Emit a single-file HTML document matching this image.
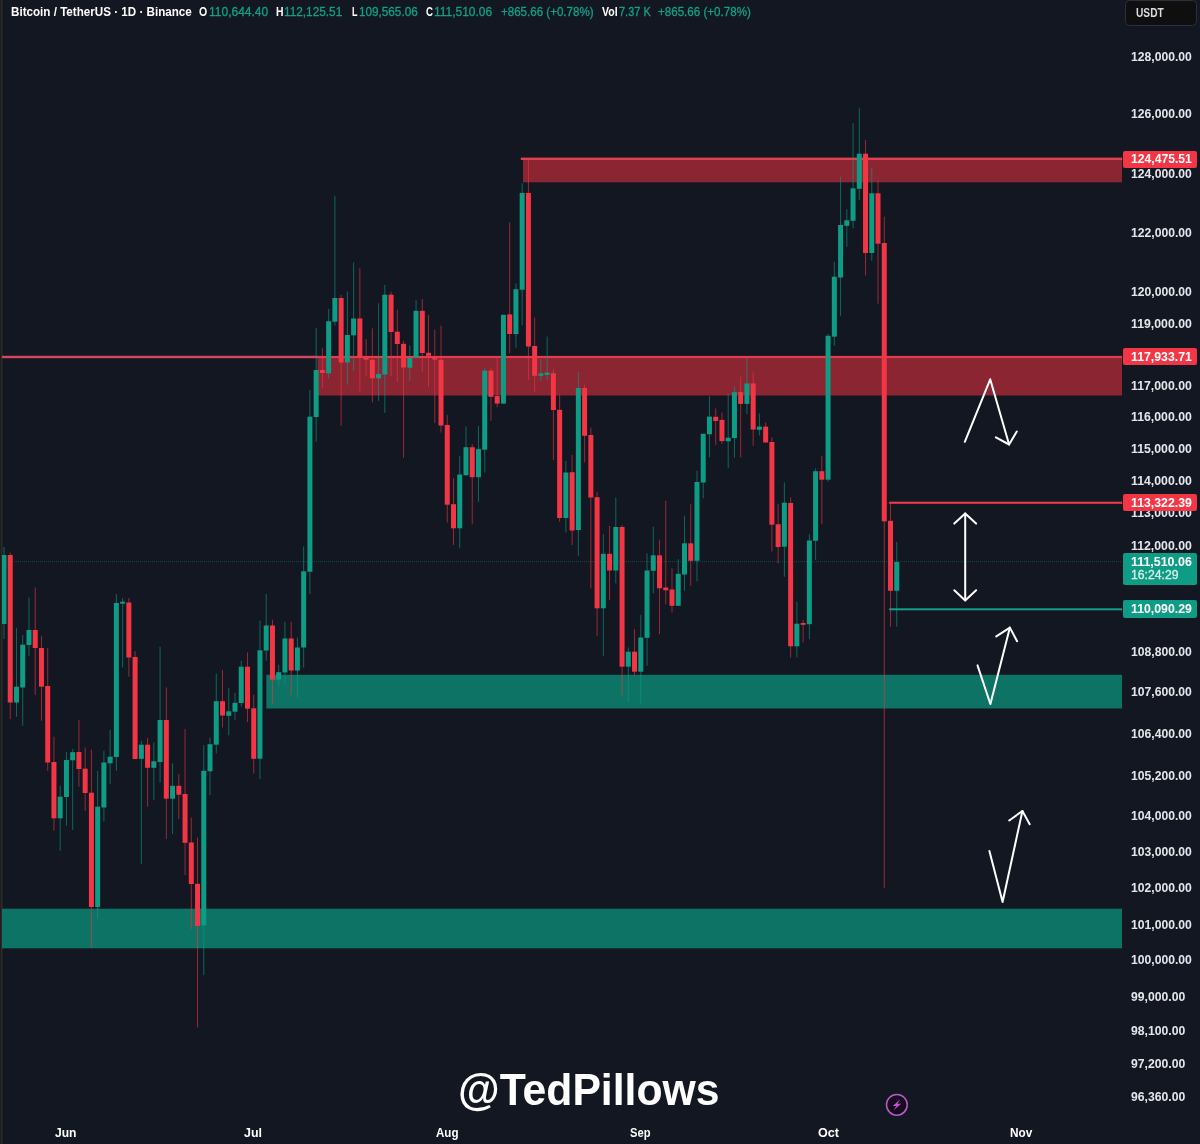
<!DOCTYPE html><html><head><meta charset="utf-8"><title>BTCUSDT</title><style>
html,body{margin:0;padding:0;background:#131722;}
body{width:1200px;height:1144px;overflow:hidden;position:relative;font-family:"Liberation Sans",sans-serif;}
#c{position:absolute;left:0;top:0;width:1200px;height:1144px;background:#131722;overflow:hidden;}
svg{position:absolute;left:0;top:0;}
#tx{position:absolute;left:0;top:0;width:1200px;height:1144px;will-change:transform;}
.t{position:absolute;white-space:nowrap;line-height:1;transform-origin:0 50%;}
.tag{position:absolute;border-radius:2px;z-index:2;}
.tt{z-index:3;}
.lb{position:absolute;left:0;top:0;width:1px;height:1144px;background:#1e1e1c;}
.lb2{position:absolute;left:1px;top:0;width:1px;height:1144px;background:#2a2a2a;}
.lb3{position:absolute;left:2px;top:0;width:1px;height:1144px;background:#212226;}
.usdt{position:absolute;left:1125px;top:-0.5px;width:70px;height:24.5px;border:1.5px solid #2c303a;border-radius:4.5px;background:#0f0f10;}

</style></head><body><div id="c">
<div class="lb3"></div>
<svg width="1200" height="1144" viewBox="0 0 1200 1144">
<rect x="523" y="159" width="599" height="23.3" fill="#8a2531"/>
<rect x="520.8" y="157.6" width="601.2" height="2.4" fill="#de4052"/>
<rect x="317.5" y="357" width="804.5" height="38.5" fill="#8a2531"/>
<rect x="0" y="355.8" width="318" height="2.4" fill="#d4485a"/>
<rect x="317.5" y="355.9" width="804.5" height="2.2" fill="#e23c4e"/>
<rect x="266.3" y="674.8" width="855.7" height="33.7" fill="#0d7364"/>
<rect x="0" y="908.7" width="1122" height="39.6" fill="#0d7364"/>
<line x1="0" y1="561.7" x2="1122" y2="561.7" stroke="#0e9c84" stroke-width="1" stroke-dasharray="1 1" opacity="0.38"/>
<rect x="3.50" y="547.0" width="1" height="92.0" fill="#0e9c84" opacity="0.6"/>
<rect x="1.50" y="555.0" width="5.0" height="69.0" fill="#0e9c84"/>
<rect x="9.74" y="552.5" width="1" height="166.5" fill="#f23645" opacity="0.6"/>
<rect x="7.74" y="555.0" width="5.0" height="147.5" fill="#f23645"/>
<rect x="15.99" y="628.0" width="1" height="88.7" fill="#0e9c84" opacity="0.6"/>
<rect x="13.99" y="686.7" width="5.0" height="15.8" fill="#0e9c84"/>
<rect x="22.23" y="635.0" width="1" height="90.8" fill="#0e9c84" opacity="0.6"/>
<rect x="20.23" y="644.7" width="5.0" height="42.8" fill="#0e9c84"/>
<rect x="28.47" y="597.5" width="1" height="58.3" fill="#0e9c84" opacity="0.6"/>
<rect x="26.47" y="630.0" width="5.0" height="15.0" fill="#0e9c84"/>
<rect x="34.72" y="587.5" width="1" height="107.5" fill="#f23645" opacity="0.6"/>
<rect x="32.72" y="630.0" width="5.0" height="18.0" fill="#f23645"/>
<rect x="40.96" y="635.8" width="1" height="85.0" fill="#f23645" opacity="0.6"/>
<rect x="38.96" y="648.0" width="5.0" height="38.7" fill="#f23645"/>
<rect x="47.20" y="648.0" width="1" height="122.8" fill="#f23645" opacity="0.6"/>
<rect x="45.20" y="686.0" width="5.0" height="76.5" fill="#f23645"/>
<rect x="53.44" y="736.7" width="1" height="94.1" fill="#f23645" opacity="0.6"/>
<rect x="51.44" y="762.0" width="5.0" height="56.3" fill="#f23645"/>
<rect x="59.69" y="785.8" width="1" height="65.0" fill="#0e9c84" opacity="0.6"/>
<rect x="57.69" y="796.7" width="5.0" height="21.6" fill="#0e9c84"/>
<rect x="65.93" y="752.0" width="1" height="73.8" fill="#0e9c84" opacity="0.6"/>
<rect x="63.93" y="760.0" width="5.0" height="37.0" fill="#0e9c84"/>
<rect x="72.17" y="749.0" width="1" height="81.0" fill="#0e9c84" opacity="0.6"/>
<rect x="70.17" y="752.2" width="5.0" height="8.1" fill="#0e9c84"/>
<rect x="78.42" y="720.0" width="1" height="66.7" fill="#f23645" opacity="0.6"/>
<rect x="76.42" y="752.0" width="5.0" height="17.0" fill="#f23645"/>
<rect x="84.66" y="747.5" width="1" height="63.3" fill="#f23645" opacity="0.6"/>
<rect x="82.66" y="768.7" width="5.0" height="24.3" fill="#f23645"/>
<rect x="90.90" y="749.7" width="1" height="197.8" fill="#f23645" opacity="0.6"/>
<rect x="88.90" y="792.7" width="5.0" height="114.3" fill="#f23645"/>
<rect x="97.15" y="770.8" width="1" height="148.2" fill="#0e9c84" opacity="0.6"/>
<rect x="95.15" y="806.7" width="5.0" height="100.3" fill="#0e9c84"/>
<rect x="103.39" y="750.8" width="1" height="70.9" fill="#0e9c84" opacity="0.6"/>
<rect x="101.39" y="762.5" width="5.0" height="45.0" fill="#0e9c84"/>
<rect x="109.63" y="730.0" width="1" height="54.0" fill="#0e9c84" opacity="0.6"/>
<rect x="107.63" y="756.7" width="5.0" height="6.6" fill="#0e9c84"/>
<rect x="115.87" y="594.0" width="1" height="176.8" fill="#0e9c84" opacity="0.6"/>
<rect x="113.87" y="603.0" width="5.0" height="154.0" fill="#0e9c84"/>
<rect x="122.12" y="598.0" width="1" height="69.5" fill="#0e9c84" opacity="0.6"/>
<rect x="120.12" y="601.7" width="5.0" height="2.0" fill="#0e9c84"/>
<rect x="128.36" y="598.0" width="1" height="78.7" fill="#f23645" opacity="0.6"/>
<rect x="126.36" y="602.5" width="5.0" height="55.0" fill="#f23645"/>
<rect x="134.60" y="651.0" width="1" height="108.0" fill="#f23645" opacity="0.6"/>
<rect x="132.60" y="657.0" width="5.0" height="102.0" fill="#f23645"/>
<rect x="140.85" y="740.8" width="1" height="123.2" fill="#0e9c84" opacity="0.6"/>
<rect x="138.85" y="744.7" width="5.0" height="14.1" fill="#0e9c84"/>
<rect x="147.09" y="738.0" width="1" height="68.7" fill="#f23645" opacity="0.6"/>
<rect x="145.09" y="744.7" width="5.0" height="23.1" fill="#f23645"/>
<rect x="153.33" y="742.5" width="1" height="57.5" fill="#0e9c84" opacity="0.6"/>
<rect x="151.33" y="761.3" width="5.0" height="6.5" fill="#0e9c84"/>
<rect x="159.58" y="646.7" width="1" height="135.8" fill="#0e9c84" opacity="0.6"/>
<rect x="157.58" y="720.0" width="5.0" height="42.0" fill="#0e9c84"/>
<rect x="165.82" y="687.5" width="1" height="151.5" fill="#f23645" opacity="0.6"/>
<rect x="163.82" y="720.0" width="5.0" height="78.7" fill="#f23645"/>
<rect x="172.06" y="763.3" width="1" height="70.7" fill="#0e9c84" opacity="0.6"/>
<rect x="170.06" y="785.8" width="5.0" height="12.9" fill="#0e9c84"/>
<rect x="178.30" y="774.0" width="1" height="45.0" fill="#f23645" opacity="0.6"/>
<rect x="176.30" y="785.8" width="5.0" height="8.9" fill="#f23645"/>
<rect x="184.55" y="729.0" width="1" height="146.0" fill="#f23645" opacity="0.6"/>
<rect x="182.55" y="794.0" width="5.0" height="48.8" fill="#f23645"/>
<rect x="190.79" y="817.5" width="1" height="111.5" fill="#f23645" opacity="0.6"/>
<rect x="188.79" y="842.5" width="5.0" height="41.5" fill="#f23645"/>
<rect x="197.03" y="837.5" width="1" height="190.0" fill="#f23645" opacity="0.6"/>
<rect x="195.03" y="883.8" width="5.0" height="42.2" fill="#f23645"/>
<rect x="203.28" y="745.0" width="1" height="230.0" fill="#0e9c84" opacity="0.6"/>
<rect x="201.28" y="770.8" width="5.0" height="154.5" fill="#0e9c84"/>
<rect x="209.52" y="737.5" width="1" height="57.5" fill="#0e9c84" opacity="0.6"/>
<rect x="207.52" y="744.2" width="5.0" height="27.1" fill="#0e9c84"/>
<rect x="215.76" y="673.7" width="1" height="79.6" fill="#0e9c84" opacity="0.6"/>
<rect x="213.76" y="701.2" width="5.0" height="43.5" fill="#0e9c84"/>
<rect x="222.01" y="670.0" width="1" height="57.5" fill="#f23645" opacity="0.6"/>
<rect x="220.01" y="701.2" width="5.0" height="14.3" fill="#f23645"/>
<rect x="228.25" y="688.0" width="1" height="47.3" fill="#0e9c84" opacity="0.6"/>
<rect x="226.25" y="711.3" width="5.0" height="4.5" fill="#0e9c84"/>
<rect x="234.49" y="693.0" width="1" height="26.7" fill="#0e9c84" opacity="0.6"/>
<rect x="232.49" y="702.8" width="5.0" height="8.9" fill="#0e9c84"/>
<rect x="240.73" y="660.8" width="1" height="45.9" fill="#0e9c84" opacity="0.6"/>
<rect x="238.73" y="666.7" width="5.0" height="36.3" fill="#0e9c84"/>
<rect x="246.98" y="652.5" width="1" height="69.5" fill="#f23645" opacity="0.6"/>
<rect x="244.98" y="666.7" width="5.0" height="42.0" fill="#f23645"/>
<rect x="253.22" y="694.7" width="1" height="79.0" fill="#f23645" opacity="0.6"/>
<rect x="251.22" y="708.3" width="5.0" height="50.5" fill="#f23645"/>
<rect x="259.46" y="620.8" width="1" height="158.2" fill="#0e9c84" opacity="0.6"/>
<rect x="257.46" y="650.3" width="5.0" height="108.4" fill="#0e9c84"/>
<rect x="265.71" y="594.0" width="1" height="66.8" fill="#0e9c84" opacity="0.6"/>
<rect x="263.71" y="625.5" width="5.0" height="25.0" fill="#0e9c84"/>
<rect x="271.95" y="619.7" width="1" height="83.6" fill="#f23645" opacity="0.6"/>
<rect x="269.95" y="625.5" width="5.0" height="54.2" fill="#f23645"/>
<rect x="278.19" y="664.7" width="1" height="22.0" fill="#0e9c84" opacity="0.6"/>
<rect x="276.19" y="672.2" width="5.0" height="7.5" fill="#0e9c84"/>
<rect x="284.44" y="621.7" width="1" height="63.3" fill="#0e9c84" opacity="0.6"/>
<rect x="282.44" y="638.5" width="5.0" height="34.0" fill="#0e9c84"/>
<rect x="290.68" y="621.7" width="1" height="73.3" fill="#f23645" opacity="0.6"/>
<rect x="288.68" y="638.5" width="5.0" height="32.0" fill="#f23645"/>
<rect x="296.92" y="637.5" width="1" height="60.0" fill="#0e9c84" opacity="0.6"/>
<rect x="294.92" y="647.5" width="5.0" height="23.0" fill="#0e9c84"/>
<rect x="303.16" y="546.3" width="1" height="121.2" fill="#0e9c84" opacity="0.6"/>
<rect x="301.16" y="571.3" width="5.0" height="76.2" fill="#0e9c84"/>
<rect x="309.41" y="390.0" width="1" height="204.0" fill="#0e9c84" opacity="0.6"/>
<rect x="307.41" y="416.7" width="5.0" height="155.0" fill="#0e9c84"/>
<rect x="315.65" y="328.0" width="1" height="113.7" fill="#0e9c84" opacity="0.6"/>
<rect x="313.65" y="370.0" width="5.0" height="47.0" fill="#0e9c84"/>
<rect x="321.89" y="348.3" width="1" height="40.0" fill="#f23645" opacity="0.6"/>
<rect x="319.89" y="370.0" width="5.0" height="3.0" fill="#f23645"/>
<rect x="328.14" y="309.0" width="1" height="69.3" fill="#0e9c84" opacity="0.6"/>
<rect x="326.14" y="321.3" width="5.0" height="52.0" fill="#0e9c84"/>
<rect x="334.38" y="195.8" width="1" height="130.0" fill="#0e9c84" opacity="0.6"/>
<rect x="332.38" y="298.0" width="5.0" height="23.7" fill="#0e9c84"/>
<rect x="340.62" y="294.7" width="1" height="131.1" fill="#f23645" opacity="0.6"/>
<rect x="338.62" y="298.0" width="5.0" height="64.5" fill="#f23645"/>
<rect x="346.87" y="291.5" width="1" height="93.2" fill="#0e9c84" opacity="0.6"/>
<rect x="344.87" y="335.0" width="5.0" height="27.5" fill="#0e9c84"/>
<rect x="353.11" y="262.5" width="1" height="108.3" fill="#0e9c84" opacity="0.6"/>
<rect x="351.11" y="318.5" width="5.0" height="16.8" fill="#0e9c84"/>
<rect x="359.35" y="268.3" width="1" height="123.0" fill="#f23645" opacity="0.6"/>
<rect x="357.35" y="318.5" width="5.0" height="38.5" fill="#f23645"/>
<rect x="365.59" y="339.0" width="1" height="37.7" fill="#f23645" opacity="0.6"/>
<rect x="363.59" y="357.0" width="5.0" height="2.7" fill="#f23645"/>
<rect x="371.84" y="328.3" width="1" height="74.2" fill="#f23645" opacity="0.6"/>
<rect x="369.84" y="359.7" width="5.0" height="18.6" fill="#f23645"/>
<rect x="378.08" y="303.3" width="1" height="97.5" fill="#0e9c84" opacity="0.6"/>
<rect x="376.08" y="374.0" width="5.0" height="4.3" fill="#0e9c84"/>
<rect x="384.32" y="285.0" width="1" height="128.0" fill="#0e9c84" opacity="0.6"/>
<rect x="382.32" y="294.7" width="5.0" height="79.8" fill="#0e9c84"/>
<rect x="390.57" y="291.7" width="1" height="84.1" fill="#f23645" opacity="0.6"/>
<rect x="388.57" y="294.7" width="5.0" height="37.3" fill="#f23645"/>
<rect x="396.81" y="309.7" width="1" height="72.3" fill="#f23645" opacity="0.6"/>
<rect x="394.81" y="331.7" width="5.0" height="12.3" fill="#f23645"/>
<rect x="403.05" y="340.8" width="1" height="116.7" fill="#f23645" opacity="0.6"/>
<rect x="401.05" y="343.8" width="5.0" height="23.7" fill="#f23645"/>
<rect x="409.30" y="345.3" width="1" height="35.5" fill="#0e9c84" opacity="0.6"/>
<rect x="407.30" y="358.0" width="5.0" height="9.8" fill="#0e9c84"/>
<rect x="415.54" y="300.0" width="1" height="57.8" fill="#0e9c84" opacity="0.6"/>
<rect x="413.54" y="310.8" width="5.0" height="47.0" fill="#0e9c84"/>
<rect x="421.78" y="299.0" width="1" height="72.7" fill="#f23645" opacity="0.6"/>
<rect x="419.78" y="310.8" width="5.0" height="42.2" fill="#f23645"/>
<rect x="428.02" y="315.0" width="1" height="71.7" fill="#f23645" opacity="0.6"/>
<rect x="426.02" y="352.8" width="5.0" height="3.0" fill="#f23645"/>
<rect x="434.27" y="329.7" width="1" height="93.3" fill="#f23645" opacity="0.6"/>
<rect x="432.27" y="356.7" width="5.0" height="3.0" fill="#f23645"/>
<rect x="440.51" y="325.8" width="1" height="106.7" fill="#f23645" opacity="0.6"/>
<rect x="438.51" y="359.7" width="5.0" height="65.8" fill="#f23645"/>
<rect x="446.75" y="415.0" width="1" height="107.5" fill="#f23645" opacity="0.6"/>
<rect x="444.75" y="425.0" width="5.0" height="79.7" fill="#f23645"/>
<rect x="453.00" y="478.3" width="1" height="66.7" fill="#f23645" opacity="0.6"/>
<rect x="451.00" y="504.2" width="5.0" height="24.1" fill="#f23645"/>
<rect x="459.24" y="455.8" width="1" height="92.5" fill="#0e9c84" opacity="0.6"/>
<rect x="457.24" y="474.5" width="5.0" height="53.8" fill="#0e9c84"/>
<rect x="465.48" y="426.3" width="1" height="49.0" fill="#0e9c84" opacity="0.6"/>
<rect x="463.48" y="447.2" width="5.0" height="28.1" fill="#0e9c84"/>
<rect x="471.73" y="444.2" width="1" height="80.0" fill="#f23645" opacity="0.6"/>
<rect x="469.73" y="447.2" width="5.0" height="30.0" fill="#f23645"/>
<rect x="477.97" y="426.0" width="1" height="75.7" fill="#0e9c84" opacity="0.6"/>
<rect x="475.97" y="449.2" width="5.0" height="28.0" fill="#0e9c84"/>
<rect x="484.21" y="367.8" width="1" height="104.7" fill="#0e9c84" opacity="0.6"/>
<rect x="482.21" y="370.7" width="5.0" height="79.0" fill="#0e9c84"/>
<rect x="490.45" y="367.8" width="1" height="53.0" fill="#f23645" opacity="0.6"/>
<rect x="488.45" y="370.7" width="5.0" height="26.1" fill="#f23645"/>
<rect x="496.70" y="358.2" width="1" height="49.0" fill="#f23645" opacity="0.6"/>
<rect x="494.70" y="396.0" width="5.0" height="7.6" fill="#f23645"/>
<rect x="502.94" y="314.8" width="1" height="88.8" fill="#0e9c84" opacity="0.6"/>
<rect x="500.94" y="314.8" width="5.0" height="88.8" fill="#0e9c84"/>
<rect x="509.18" y="222.5" width="1" height="130.7" fill="#f23645" opacity="0.6"/>
<rect x="507.18" y="314.4" width="5.0" height="19.6" fill="#f23645"/>
<rect x="515.43" y="283.3" width="1" height="64.5" fill="#0e9c84" opacity="0.6"/>
<rect x="513.43" y="289.2" width="5.0" height="44.8" fill="#0e9c84"/>
<rect x="521.67" y="183.3" width="1" height="141.9" fill="#0e9c84" opacity="0.6"/>
<rect x="519.67" y="193.0" width="5.0" height="96.7" fill="#0e9c84"/>
<rect x="527.91" y="159.0" width="1" height="221.0" fill="#f23645" opacity="0.6"/>
<rect x="525.91" y="193.0" width="5.0" height="153.5" fill="#f23645"/>
<rect x="534.15" y="317.4" width="1" height="74.3" fill="#f23645" opacity="0.6"/>
<rect x="532.15" y="346.0" width="5.0" height="29.8" fill="#f23645"/>
<rect x="540.40" y="359.3" width="1" height="21.7" fill="#0e9c84" opacity="0.6"/>
<rect x="538.40" y="373.4" width="5.0" height="2.4" fill="#0e9c84"/>
<rect x="546.64" y="336.6" width="1" height="43.4" fill="#0e9c84" opacity="0.6"/>
<rect x="544.64" y="372.6" width="5.0" height="2.3" fill="#0e9c84"/>
<rect x="552.88" y="369.3" width="1" height="90.7" fill="#f23645" opacity="0.6"/>
<rect x="550.88" y="373.2" width="5.0" height="36.8" fill="#f23645"/>
<rect x="559.13" y="394.8" width="1" height="126.9" fill="#f23645" opacity="0.6"/>
<rect x="557.13" y="409.8" width="5.0" height="108.2" fill="#f23645"/>
<rect x="565.37" y="460.8" width="1" height="71.7" fill="#0e9c84" opacity="0.6"/>
<rect x="563.37" y="472.5" width="5.0" height="45.5" fill="#0e9c84"/>
<rect x="571.61" y="455.0" width="1" height="90.0" fill="#f23645" opacity="0.6"/>
<rect x="569.61" y="472.2" width="5.0" height="58.3" fill="#f23645"/>
<rect x="577.86" y="372.0" width="1" height="183.8" fill="#0e9c84" opacity="0.6"/>
<rect x="575.86" y="388.0" width="5.0" height="142.0" fill="#0e9c84"/>
<rect x="584.10" y="384.7" width="1" height="77.8" fill="#f23645" opacity="0.6"/>
<rect x="582.10" y="388.0" width="5.0" height="47.8" fill="#f23645"/>
<rect x="590.34" y="427.5" width="1" height="160.8" fill="#f23645" opacity="0.6"/>
<rect x="588.34" y="435.0" width="5.0" height="62.5" fill="#f23645"/>
<rect x="596.59" y="491.7" width="1" height="144.1" fill="#f23645" opacity="0.6"/>
<rect x="594.59" y="497.2" width="5.0" height="111.1" fill="#f23645"/>
<rect x="602.83" y="534.2" width="1" height="121.6" fill="#0e9c84" opacity="0.6"/>
<rect x="600.83" y="553.8" width="5.0" height="54.5" fill="#0e9c84"/>
<rect x="609.07" y="525.8" width="1" height="74.2" fill="#f23645" opacity="0.6"/>
<rect x="607.07" y="553.8" width="5.0" height="16.7" fill="#f23645"/>
<rect x="615.31" y="497.5" width="1" height="85.8" fill="#0e9c84" opacity="0.6"/>
<rect x="613.31" y="527.0" width="5.0" height="43.5" fill="#0e9c84"/>
<rect x="621.56" y="525.0" width="1" height="170.8" fill="#f23645" opacity="0.6"/>
<rect x="619.56" y="527.0" width="5.0" height="139.7" fill="#f23645"/>
<rect x="627.80" y="647.5" width="1" height="54.2" fill="#0e9c84" opacity="0.6"/>
<rect x="625.80" y="651.7" width="5.0" height="15.0" fill="#0e9c84"/>
<rect x="634.04" y="629.2" width="1" height="46.6" fill="#f23645" opacity="0.6"/>
<rect x="632.04" y="651.7" width="5.0" height="20.0" fill="#f23645"/>
<rect x="640.29" y="615.0" width="1" height="88.3" fill="#0e9c84" opacity="0.6"/>
<rect x="638.29" y="637.5" width="5.0" height="34.2" fill="#0e9c84"/>
<rect x="646.53" y="553.3" width="1" height="112.5" fill="#0e9c84" opacity="0.6"/>
<rect x="644.53" y="570.5" width="5.0" height="67.3" fill="#0e9c84"/>
<rect x="652.77" y="526.7" width="1" height="66.6" fill="#0e9c84" opacity="0.6"/>
<rect x="650.77" y="555.3" width="5.0" height="15.5" fill="#0e9c84"/>
<rect x="659.01" y="540.0" width="1" height="94.2" fill="#f23645" opacity="0.6"/>
<rect x="657.01" y="555.3" width="5.0" height="33.0" fill="#f23645"/>
<rect x="665.26" y="500.8" width="1" height="103.4" fill="#f23645" opacity="0.6"/>
<rect x="663.26" y="587.5" width="5.0" height="2.8" fill="#f23645"/>
<rect x="671.50" y="568.3" width="1" height="44.2" fill="#f23645" opacity="0.6"/>
<rect x="669.50" y="589.5" width="5.0" height="16.3" fill="#f23645"/>
<rect x="677.74" y="559.2" width="1" height="46.6" fill="#0e9c84" opacity="0.6"/>
<rect x="675.74" y="573.8" width="5.0" height="32.0" fill="#0e9c84"/>
<rect x="683.99" y="515.8" width="1" height="75.0" fill="#0e9c84" opacity="0.6"/>
<rect x="681.99" y="543.3" width="5.0" height="31.2" fill="#0e9c84"/>
<rect x="690.23" y="504.2" width="1" height="81.6" fill="#f23645" opacity="0.6"/>
<rect x="688.23" y="543.3" width="5.0" height="17.5" fill="#f23645"/>
<rect x="696.47" y="470.8" width="1" height="110.5" fill="#0e9c84" opacity="0.6"/>
<rect x="694.47" y="482.0" width="5.0" height="78.8" fill="#0e9c84"/>
<rect x="702.72" y="433.8" width="1" height="64.5" fill="#0e9c84" opacity="0.6"/>
<rect x="700.72" y="433.8" width="5.0" height="48.7" fill="#0e9c84"/>
<rect x="708.96" y="396.2" width="1" height="61.1" fill="#0e9c84" opacity="0.6"/>
<rect x="706.96" y="416.6" width="5.0" height="17.6" fill="#0e9c84"/>
<rect x="715.20" y="408.4" width="1" height="36.6" fill="#f23645" opacity="0.6"/>
<rect x="713.20" y="416.8" width="5.0" height="4.2" fill="#f23645"/>
<rect x="721.45" y="412.4" width="1" height="31.4" fill="#f23645" opacity="0.6"/>
<rect x="719.45" y="419.9" width="5.0" height="21.2" fill="#f23645"/>
<rect x="727.69" y="393.7" width="1" height="74.3" fill="#0e9c84" opacity="0.6"/>
<rect x="725.69" y="437.7" width="5.0" height="3.6" fill="#0e9c84"/>
<rect x="733.93" y="386.3" width="1" height="71.2" fill="#0e9c84" opacity="0.6"/>
<rect x="731.93" y="392.1" width="5.0" height="45.9" fill="#0e9c84"/>
<rect x="740.17" y="376.6" width="1" height="80.6" fill="#f23645" opacity="0.6"/>
<rect x="738.17" y="392.1" width="5.0" height="11.8" fill="#f23645"/>
<rect x="746.42" y="357.8" width="1" height="56.3" fill="#0e9c84" opacity="0.6"/>
<rect x="744.42" y="383.4" width="5.0" height="20.5" fill="#0e9c84"/>
<rect x="752.66" y="371.6" width="1" height="74.2" fill="#f23645" opacity="0.6"/>
<rect x="750.66" y="383.4" width="5.0" height="46.1" fill="#f23645"/>
<rect x="758.90" y="413.4" width="1" height="22.0" fill="#0e9c84" opacity="0.6"/>
<rect x="756.90" y="426.6" width="5.0" height="3.2" fill="#0e9c84"/>
<rect x="765.15" y="422.6" width="1" height="19.9" fill="#f23645" opacity="0.6"/>
<rect x="763.15" y="426.6" width="5.0" height="15.9" fill="#f23645"/>
<rect x="771.39" y="437.2" width="1" height="114.5" fill="#f23645" opacity="0.6"/>
<rect x="769.39" y="442.0" width="5.0" height="82.7" fill="#f23645"/>
<rect x="777.63" y="504.2" width="1" height="59.1" fill="#f23645" opacity="0.6"/>
<rect x="775.63" y="524.2" width="5.0" height="22.8" fill="#f23645"/>
<rect x="783.88" y="482.5" width="1" height="94.2" fill="#0e9c84" opacity="0.6"/>
<rect x="781.88" y="502.7" width="5.0" height="44.0" fill="#0e9c84"/>
<rect x="790.12" y="497.5" width="1" height="160.0" fill="#f23645" opacity="0.6"/>
<rect x="788.12" y="503.0" width="5.0" height="143.3" fill="#f23645"/>
<rect x="796.36" y="601.7" width="1" height="55.8" fill="#0e9c84" opacity="0.6"/>
<rect x="794.36" y="623.7" width="5.0" height="22.6" fill="#0e9c84"/>
<rect x="802.60" y="619.7" width="1" height="22.8" fill="#f23645" opacity="0.6"/>
<rect x="800.60" y="623.0" width="5.0" height="1.8" fill="#f23645"/>
<rect x="808.85" y="534.2" width="1" height="105.0" fill="#0e9c84" opacity="0.6"/>
<rect x="806.85" y="540.5" width="5.0" height="83.7" fill="#0e9c84"/>
<rect x="815.09" y="468.3" width="1" height="91.7" fill="#0e9c84" opacity="0.6"/>
<rect x="813.09" y="471.2" width="5.0" height="69.6" fill="#0e9c84"/>
<rect x="821.33" y="455.8" width="1" height="68.4" fill="#f23645" opacity="0.6"/>
<rect x="819.33" y="471.2" width="5.0" height="8.5" fill="#f23645"/>
<rect x="827.58" y="334.0" width="1" height="147.7" fill="#0e9c84" opacity="0.6"/>
<rect x="825.58" y="335.8" width="5.0" height="143.9" fill="#0e9c84"/>
<rect x="833.82" y="261.7" width="1" height="84.1" fill="#0e9c84" opacity="0.6"/>
<rect x="831.82" y="276.7" width="5.0" height="60.0" fill="#0e9c84"/>
<rect x="840.06" y="176.7" width="1" height="139.1" fill="#0e9c84" opacity="0.6"/>
<rect x="838.06" y="225.0" width="5.0" height="52.5" fill="#0e9c84"/>
<rect x="846.31" y="209.2" width="1" height="37.5" fill="#0e9c84" opacity="0.6"/>
<rect x="844.31" y="220.3" width="5.0" height="5.5" fill="#0e9c84"/>
<rect x="852.55" y="123.3" width="1" height="105.0" fill="#0e9c84" opacity="0.6"/>
<rect x="850.55" y="188.3" width="5.0" height="32.5" fill="#0e9c84"/>
<rect x="858.79" y="108.3" width="1" height="91.7" fill="#0e9c84" opacity="0.6"/>
<rect x="856.79" y="153.7" width="5.0" height="35.1" fill="#0e9c84"/>
<rect x="865.03" y="140.0" width="1" height="135.5" fill="#f23645" opacity="0.6"/>
<rect x="863.03" y="153.7" width="5.0" height="99.3" fill="#f23645"/>
<rect x="871.28" y="167.5" width="1" height="93.3" fill="#0e9c84" opacity="0.6"/>
<rect x="869.28" y="193.3" width="5.0" height="59.7" fill="#0e9c84"/>
<rect x="877.52" y="180.8" width="1" height="122.9" fill="#f23645" opacity="0.6"/>
<rect x="875.52" y="193.3" width="5.0" height="50.4" fill="#f23645"/>
<rect x="883.76" y="216.7" width="1" height="671.3" fill="#f23645" opacity="0.6"/>
<rect x="881.76" y="243.0" width="5.0" height="278.3" fill="#f23645"/>
<rect x="890.01" y="503.3" width="1" height="123.4" fill="#f23645" opacity="0.6"/>
<rect x="888.01" y="520.8" width="5.0" height="70.0" fill="#f23645"/>
<rect x="896.25" y="542.0" width="1" height="84.7" fill="#0e9c84" opacity="0.6"/>
<rect x="894.25" y="562.0" width="5.0" height="28.8" fill="#0e9c84"/>
<rect x="889.2" y="501.7" width="232.8" height="2.1" fill="#ef3a4a"/>
<rect x="889.2" y="608.3" width="232.8" height="2.0" fill="#12a089"/>
<polyline points="964.8,441.8 990.2,379.3 1009.1,444.5" fill="none" stroke="#ffffff" stroke-width="2" stroke-linecap="round" stroke-linejoin="round"/>
<polyline points="995.9,437.3 1009.1,444.5 1016.8,431.6" fill="none" stroke="#ffffff" stroke-width="2" stroke-linecap="round" stroke-linejoin="round"/>
<polyline points="965.2,513.6 965.2,600.3" fill="none" stroke="#ffffff" stroke-width="2" stroke-linecap="round" stroke-linejoin="round"/>
<polyline points="954.3,523.6 965.2,513.4 976.1,523.6" fill="none" stroke="#ffffff" stroke-width="2" stroke-linecap="round" stroke-linejoin="round"/>
<polyline points="954.3,590.2 965.2,600.5 976.1,590.2" fill="none" stroke="#ffffff" stroke-width="2" stroke-linecap="round" stroke-linejoin="round"/>
<polyline points="977.5,665.4 990.4,704.0 1009.9,627.6" fill="none" stroke="#ffffff" stroke-width="2" stroke-linecap="round" stroke-linejoin="round"/>
<polyline points="996.3,636.4 1009.9,627.6 1017.1,641.2" fill="none" stroke="#ffffff" stroke-width="2" stroke-linecap="round" stroke-linejoin="round"/>
<polyline points="989.4,851.0 1002.6,902.0 1022.4,811.0" fill="none" stroke="#ffffff" stroke-width="2" stroke-linecap="round" stroke-linejoin="round"/>
<polyline points="1009.2,820.5 1022.4,811.0 1029.7,824.2" fill="none" stroke="#ffffff" stroke-width="2" stroke-linecap="round" stroke-linejoin="round"/>
<circle cx="896.85" cy="1104.8" r="10.35" fill="#160a1e" stroke="#b65cc6" stroke-width="1.5"/>
<path d="M900.4 1099.2 L892.8 1106 L896.4 1106 L893.4 1110.6 L901.1 1103.7 L897.5 1103.7 Z" fill="#d048dc"/>
</svg>
<div class="lb"></div><div class="lb2"></div>
<div id="tx">
<div class="usdt"></div>
<div class="tag" style="left:1122.7px;top:150.8px;width:74.5px;height:17.2px;background:#f23645"></div>
<div class="tag" style="left:1122.7px;top:348.2px;width:74.5px;height:17.3px;background:#f23645"></div>
<div class="tag" style="left:1122.7px;top:494.1px;width:74.5px;height:17.4px;background:#f23645"></div>
<div class="tag" style="left:1122.7px;top:553px;width:74.5px;height:32.2px;background:#0e9c84"></div>
<div class="tag" style="left:1122.7px;top:600px;width:74.5px;height:18.2px;background:#0e9c84"></div>
<div class="t" style="left:10.5px;top:5.70px;font-size:12px;font-weight:bold;color:#ffffff;transform:scaleX(0.9696);">Bitcoin / TetherUS · 1D · Binance</div>
<div class="t" style="left:199.3px;top:5.70px;font-size:12px;font-weight:bold;color:#ffffff;transform:scaleX(0.8776);">O</div>
<div class="t" style="left:208.8px;top:5.70px;font-size:12px;font-weight:normal;color:#10a088;transform:scaleX(1.0005);-webkit-text-stroke:0.3px #10a088;">110,644.40</div>
<div class="t" style="left:275.8px;top:5.70px;font-size:12px;font-weight:bold;color:#ffffff;transform:scaleX(0.8649);">H</div>
<div class="t" style="left:284.3px;top:5.70px;font-size:12px;font-weight:normal;color:#10a088;transform:scaleX(0.9836);-webkit-text-stroke:0.3px #10a088;">112,125.51</div>
<div class="t" style="left:352px;top:5.70px;font-size:12px;font-weight:bold;color:#ffffff;transform:scaleX(0.7489);">L</div>
<div class="t" style="left:359.3px;top:5.70px;font-size:12px;font-weight:normal;color:#10a088;transform:scaleX(0.9773);-webkit-text-stroke:0.3px #10a088;">109,565.06</div>
<div class="t" style="left:425.5px;top:5.70px;font-size:12px;font-weight:bold;color:#ffffff;transform:scaleX(0.8072);">C</div>
<div class="t" style="left:434.3px;top:5.70px;font-size:12px;font-weight:normal;color:#10a088;transform:scaleX(0.9986);-webkit-text-stroke:0.3px #10a088;">111,510.06</div>
<div class="t" style="left:501.3px;top:5.70px;font-size:12px;font-weight:normal;color:#10a088;transform:scaleX(0.9628);-webkit-text-stroke:0.3px #10a088;">+865.66 (+0.78%)</div>
<div class="t" style="left:601.8px;top:5.70px;font-size:12px;font-weight:bold;color:#ffffff;transform:scaleX(0.8830);">Vol</div>
<div class="t" style="left:618.8px;top:5.70px;font-size:12px;font-weight:normal;color:#10a088;transform:scaleX(0.9135);-webkit-text-stroke:0.3px #10a088;">7.37 K</div>
<div class="t" style="left:658px;top:5.70px;font-size:12px;font-weight:normal;color:#10a088;transform:scaleX(0.9659);-webkit-text-stroke:0.3px #10a088;">+865.66 (+0.78%)</div>
<div class="t" style="left:1131px;top:50.70px;font-size:12px;font-weight:bold;color:#e4e6eb;transform:scaleX(1.0123);">128,000.00</div>
<div class="t" style="left:1131px;top:107.70px;font-size:12px;font-weight:bold;color:#e4e6eb;transform:scaleX(1.0123);">126,000.00</div>
<div class="t" style="left:1131px;top:167.50px;font-size:12px;font-weight:bold;color:#e4e6eb;transform:scaleX(1.0123);">124,000.00</div>
<div class="t" style="left:1131px;top:226.50px;font-size:12px;font-weight:bold;color:#e4e6eb;transform:scaleX(1.0123);">122,000.00</div>
<div class="t" style="left:1131px;top:286.30px;font-size:12px;font-weight:bold;color:#e4e6eb;transform:scaleX(1.0123);">120,000.00</div>
<div class="t" style="left:1131px;top:318.00px;font-size:12px;font-weight:bold;color:#e4e6eb;transform:scaleX(1.0235);">119,000.00</div>
<div class="t" style="left:1131px;top:379.70px;font-size:12px;font-weight:bold;color:#e4e6eb;transform:scaleX(1.0235);">117,000.00</div>
<div class="t" style="left:1131px;top:410.70px;font-size:12px;font-weight:bold;color:#e4e6eb;transform:scaleX(1.0235);">116,000.00</div>
<div class="t" style="left:1131px;top:443.00px;font-size:12px;font-weight:bold;color:#e4e6eb;transform:scaleX(1.0235);">115,000.00</div>
<div class="t" style="left:1131px;top:474.80px;font-size:12px;font-weight:bold;color:#e4e6eb;transform:scaleX(1.0235);">114,000.00</div>
<div class="t" style="left:1131px;top:507.40px;font-size:12px;font-weight:bold;color:#e4e6eb;transform:scaleX(1.0235);">113,000.00</div>
<div class="t" style="left:1131px;top:539.50px;font-size:12px;font-weight:bold;color:#e4e6eb;transform:scaleX(1.0235);">112,000.00</div>
<div class="t" style="left:1131px;top:646.20px;font-size:12px;font-weight:bold;color:#e4e6eb;transform:scaleX(1.0123);">108,800.00</div>
<div class="t" style="left:1131px;top:685.70px;font-size:12px;font-weight:bold;color:#e4e6eb;transform:scaleX(1.0123);">107,600.00</div>
<div class="t" style="left:1131px;top:727.50px;font-size:12px;font-weight:bold;color:#e4e6eb;transform:scaleX(1.0123);">106,400.00</div>
<div class="t" style="left:1131px;top:769.50px;font-size:12px;font-weight:bold;color:#e4e6eb;transform:scaleX(1.0123);">105,200.00</div>
<div class="t" style="left:1131px;top:810.10px;font-size:12px;font-weight:bold;color:#e4e6eb;transform:scaleX(1.0123);">104,000.00</div>
<div class="t" style="left:1131px;top:846.10px;font-size:12px;font-weight:bold;color:#e4e6eb;transform:scaleX(1.0123);">103,000.00</div>
<div class="t" style="left:1131px;top:882.30px;font-size:12px;font-weight:bold;color:#e4e6eb;transform:scaleX(1.0123);">102,000.00</div>
<div class="t" style="left:1131px;top:918.50px;font-size:12px;font-weight:bold;color:#e4e6eb;transform:scaleX(1.0123);">101,000.00</div>
<div class="t" style="left:1131px;top:953.80px;font-size:12px;font-weight:bold;color:#e4e6eb;transform:scaleX(1.0123);">100,000.00</div>
<div class="t" style="left:1131px;top:990.50px;font-size:12px;font-weight:bold;color:#e4e6eb;transform:scaleX(1.0170);">99,000.00</div>
<div class="t" style="left:1131px;top:1024.50px;font-size:12px;font-weight:bold;color:#e4e6eb;transform:scaleX(1.0170);">98,100.00</div>
<div class="t" style="left:1131px;top:1058.20px;font-size:12px;font-weight:bold;color:#e4e6eb;transform:scaleX(1.0170);">97,200.00</div>
<div class="t" style="left:1131px;top:1090.70px;font-size:12px;font-weight:bold;color:#e4e6eb;transform:scaleX(1.0170);">96,360.00</div>
<div class="t" style="left:55.05px;top:1127.00px;font-size:12px;font-weight:bold;color:#ffffff;transform:scaleX(1.0073);">Jun</div>
<div class="t" style="left:244.2px;top:1127.00px;font-size:12px;font-weight:bold;color:#ffffff;transform:scaleX(1.0378);">Jul</div>
<div class="t" style="left:435.95px;top:1127.00px;font-size:12px;font-weight:bold;color:#ffffff;transform:scaleX(0.9645);">Aug</div>
<div class="t" style="left:629.95px;top:1127.00px;font-size:12px;font-weight:bold;color:#ffffff;transform:scaleX(0.9312);">Sep</div>
<div class="t" style="left:817.5px;top:1127.00px;font-size:12px;font-weight:bold;color:#ffffff;transform:scaleX(1.0492);">Oct</div>
<div class="t" style="left:1010.45px;top:1127.00px;font-size:12px;font-weight:bold;color:#ffffff;transform:scaleX(0.9836);">Nov</div>
<div class="t" style="left:458px;top:1067.65px;font-size:43.7px;font-weight:bold;color:#ffffff;transform:scaleX(0.9774);">@TedPillows</div>
<div class="t" style="left:1135.9px;top:7.25px;font-size:12.5px;font-weight:bold;color:#dcdcde;transform:scaleX(0.8140);">USDT</div>
<div class="t tt" style="left:1131px;top:153.20px;font-size:12px;font-weight:bold;color:#ffffff;transform:scaleX(1.0123);">124,475.51</div>
<div class="t tt" style="left:1131px;top:351.00px;font-size:12px;font-weight:bold;color:#ffffff;transform:scaleX(1.0235);">117,933.71</div>
<div class="t tt" style="left:1131px;top:496.80px;font-size:12px;font-weight:bold;color:#ffffff;transform:scaleX(1.0235);">113,322.39</div>
<div class="t tt" style="left:1131px;top:555.70px;font-size:12px;font-weight:bold;color:#ffffff;transform:scaleX(1.0352);">111,510.06</div>
<div class="t tt" style="left:1131px;top:569.30px;font-size:12px;font-weight:normal;color:#d8f0ea;transform:scaleX(1.0167);-webkit-text-stroke:0.3px #d8f0ea;">16:24:29</div>
<div class="t tt" style="left:1131px;top:603.10px;font-size:12px;font-weight:bold;color:#ffffff;transform:scaleX(1.0235);">110,090.29</div>
</div></div></body></html>
